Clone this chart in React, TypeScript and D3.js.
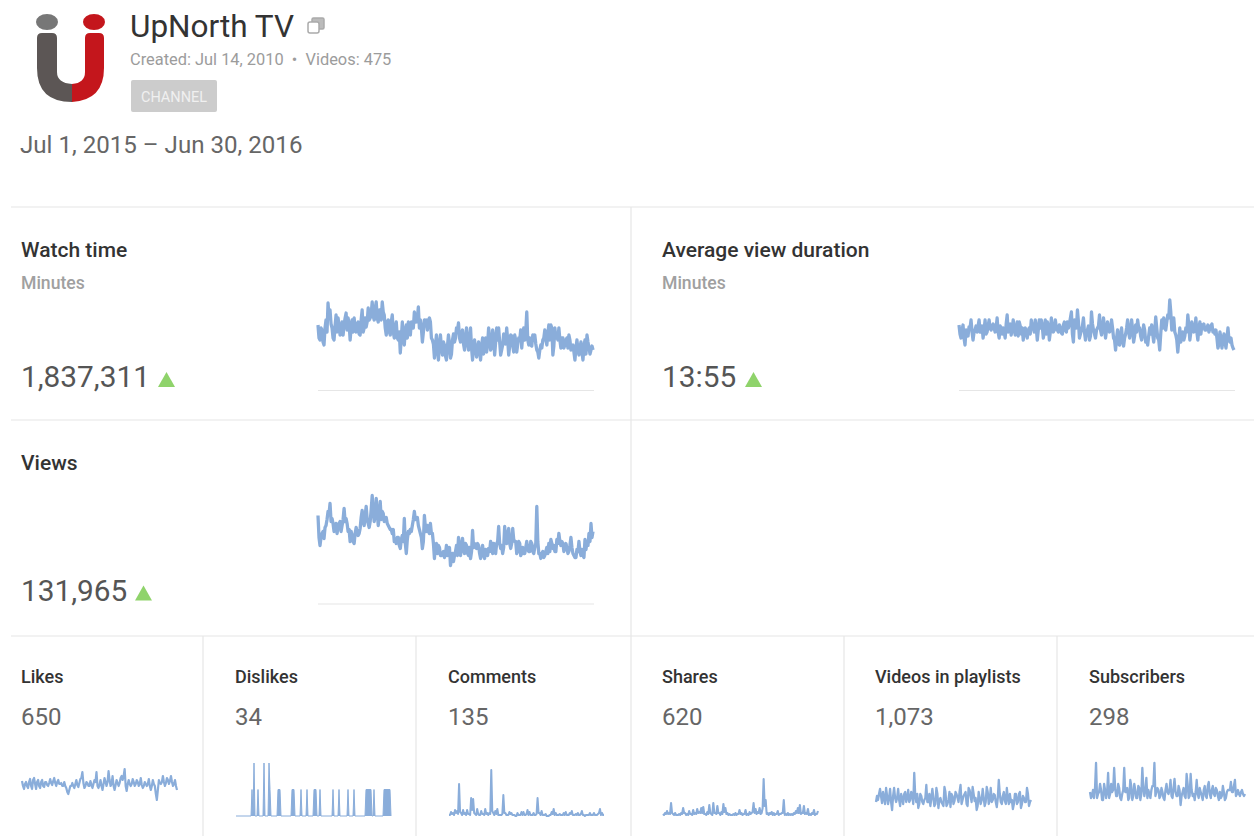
import React from "react";
import * as d3 from "d3";

const channelName = "UpNorth TV";
const channelMeta = "Created: Jul 14, 2010  •  Videos: 475";
const dateRange = "Jul 1, 2015 – Jun 30, 2016";

const watchTimeA = [65,50,60,45,70,87,80,62,50,75,72,55,68,65,77,72,50,70,72,58,68,55,80,62,63,82,72,88,70,88,68,80,88,75,55,70,55,75,52,68,50,37,68,45,65,68,55,62,78,68,83,70,48,70,70,70,68,50,32,55,30,55,35,45,30,55,32,50,48,62,67,48,60,40,62,40,62,30,50,33,48,30,52,50,38,62,40,60,35,62,62,35,45,50,62,35,55,45,55,38,52,60,55,50,78,45,45,55,55,40,32,45,50,60,45,65,65,35,62,55,62,42,52,45,52,55,40,45,30,50,35,48,30,50,55,42,40,40];
const watchTimeB = [52,62,48,62,58,72,66,52,64,58,64,60,55,72,60,66,62,58,62,66,56,70,58,72,68,70,76,74,82,72,80,70,78,62,68,58,68,58,62,52,58,52,55,60,52,60,68,62,72,72,62,62,58,66,60,72,52,46,44,40,46,42,48,34,44,46,36,56,52,60,52,56,46,52,48,50,42,44,40,42,38,44,36,52,46,52,42,52,48,50,48,40,56,46,50,44,54,38,50,46,50,42,62,58,50,52,44,52,46,38,40,42,52,50,56,50,62,44,52,50,50,52,42,50,42,50,44,38,42,40,42,38,44,36,48,36,44];
const avgDurationA = [65,52,65,45,58,63,70,50,60,58,70,62,52,70,58,70,60,66,58,72,52,62,62,52,75,65,55,70,55,68,68,56,50,62,52,62,70,62,70,50,70,70,52,70,68,50,72,58,70,60,65,57,65,60,68,66,78,48,66,80,52,60,72,50,60,50,78,60,52,62,75,55,72,52,68,58,70,52,40,60,45,62,44,56,70,52,70,48,65,70,62,50,65,48,45,62,65,48,73,52,40,70,72,60,75,90,60,72,55,38,62,55,50,62,75,50,68,58,72,50,68,65,66,60,65,62,66,60,60,42,58,42,56,42,62,48,45,40];
const avgDurationB = [56,60,52,60,54,62,58,58,64,64,58,64,60,56,64,62,64,62,62,58,64,56,58,66,58,66,60,62,60,54,64,62,60,56,60,56,64,58,62,60,62,64,58,56,64,58,62,60,62,58,62,56,68,58,62,72,56,70,62,68,56,64,58,58,64,54,66,56,60,64,60,62,62,60,62,60,62,50,52,46,56,48,52,62,58,60,60,54,58,62,54,56,60,52,54,56,56,58,62,50,56,62,62,68,72,78,62,58,50,50,48,58,54,58,64,58,62,60,58,62,56,62,60,62,58,64,58,56,52,46,52,50,48,52,50,52,42];
const viewsA = [88,58,70,65,78,92,100,85,72,80,76,82,78,95,85,72,62,68,60,76,68,75,93,78,97,80,82,108,82,105,78,102,92,82,86,78,74,70,62,60,66,55,68,85,50,72,74,78,92,85,78,70,55,88,72,72,80,70,45,60,58,48,50,46,58,52,38,50,48,58,66,48,65,50,58,48,45,73,60,55,58,45,58,45,50,55,62,50,56,60,77,55,50,77,60,75,55,75,62,50,62,48,56,50,62,52,62,52,56,97,50,45,52,48,56,60,64,55,52,64,70,58,60,55,56,52,66,50,46,54,62,48,48,64,62,70,80,72];
const viewsB = [66,66,72,76,84,90,82,80,74,70,80,72,84,82,80,74,72,62,70,72,70,86,82,88,84,76,94,92,88,92,86,84,90,84,80,76,74,74,64,66,58,64,62,60,64,70,72,84,84,86,74,66,62,76,78,70,70,60,58,50,56,48,52,50,48,56,44,42,52,48,58,56,54,60,50,56,52,56,58,60,50,52,48,54,48,52,58,60,50,62,60,58,56,62,70,60,60,64,62,52,60,50,50,56,54,52,60,50,60,62,50,50,46,52,50,52,60,58,52,60,62,62,52,60,50,58,56,48,46,52,52,54,46,54,58,62,66];

const likesA = [35,27,34,28,37,27,38,27,36,28,36,29,34,30,37,31,38,30,36,32,30,34,28,22,30,33,28,36,29,37,44,28,34,30,35,28,36,44,28,36,26,38,30,45,30,40,26,36,30,38,36,47,25,36,30,37,30,36,30,38,28,34,30,37,26,36,30,16,36,32,40,30,38,32,40,30,36,26];
const likesB = [30,32,30,34,30,36,32,34,30,34,30,34,31,33,33,35,33,34,32,33,30,30,24,26,30,30,32,31,33,38,33,30,33,30,31,32,34,30,31,30,32,34,34,36,32,30,31,33,33,40,40,30,32,32,32,34,32,34,32,31,30,32,32,30,30,32,22,26,33,34,34,33,36,35,34,32,30];
const dislikeDays = [16,18,22,28,33,34,42,43,44,56,57,58,65,71,78,79,80,84,97,103,112,118,130,131,132,133,134,135,138,148,149,150,151,152,153,154];
const dislikeCounts = [1,2,1,2,2,1,1,1,1,1,1,1,1,1,1,1,1,1,1,1,1,1,1,1,1,1,1,1,1,1,1,1,1,1,1,1];
const dislikeSpan = 155;
const commentsA = [1,4,3,6,5,32,3,6,3,6,2,18,17,2,7,1,5,2,7,3,3,46,3,5,7,1,1,21,3,1,4,3,1,0,3,1,4,4,1,6,4,1,3,1,18,3,5,1,2,0,1,4,7,3,1,2,1,3,4,1,3,5,1,2,3,1,5,1,1,1,3,1,3,1,2,7,3,1];
const commentsB = [1,2,1,3,2,4,1,2,1,2,1,6,3,1,2,1,2,1,2,1,2,5,1,2,1,1,2,3,1,1,2,1,1,0,1,1,1,1,2,1,1,1,1,2,3,1,1,1,0,0,1,2,1,1,1,1,1,1,1,1,2,1,1,1,1,2,1,0,1,1,1,1,1,1,3,1,1];
const sharesA = [2,3,5,3,13,2,3,1,2,3,8,3,2,5,2,6,3,7,4,8,9,2,4,11,2,13,3,10,3,4,12,8,3,2,1,2,3,2,6,3,2,6,2,4,3,13,7,4,8,3,37,16,3,3,4,3,2,5,2,3,16,2,3,2,2,3,5,8,11,3,10,3,7,2,3,6,2,5];
const sharesB = [1,2,2,2,3,1,1,1,1,2,3,1,1,2,1,2,2,3,3,3,2,1,2,3,1,3,2,3,1,2,4,2,1,1,1,1,1,2,2,1,2,1,1,2,4,3,2,3,2,8,10,2,1,2,1,1,2,1,2,3,1,1,1,1,1,2,3,3,2,3,2,2,1,1,2,1,2];
const playlistsA = [14,16,27,13,18,28,12,27,6,28,14,27,10,18,22,14,26,16,22,43,14,8,22,14,16,31,14,10,27,10,28,8,18,12,29,10,16,9,20,15,22,14,31,16,22,12,28,20,29,15,6,24,12,27,10,29,12,28,16,21,9,36,14,20,15,28,12,14,7,22,12,22,8,20,14,28,10,16];
const playlistsB = [20,22,20,24,12,20,18,14,20,18,18,16,22,12,24,18,14,24,12,20,22,12,20,12,18,14,22,18,18,12,22,16,14,10,24,12,24,22,12,24,18,24,12,20,24,10,26,14,22,18,10,18,16,18,14,24,16,14,22,14,18,22,12,24,12,18,22,16,12,22,14,24,12,18,14,22,14];
const subscribersA = [24,20,18,53,22,32,16,32,18,43,22,24,48,20,32,18,22,48,24,16,36,16,32,18,30,16,48,20,38,26,18,30,53,24,26,20,24,16,32,22,36,18,37,20,30,11,24,20,42,18,42,20,16,36,18,24,16,30,18,34,18,30,20,26,16,18,30,16,24,26,34,24,36,22,22,24,22,22];
const subscribersB = [18,26,28,18,24,26,16,26,24,18,32,26,28,20,28,16,26,24,28,18,30,20,26,18,28,22,28,26,18,22,26,30,20,28,18,28,18,26,24,26,20,28,24,20,26,20,28,18,32,20,26,22,24,22,28,20,26,20,30,22,26,22,28,20,24,20,24,18,26,26,24,30,20,26,20,26,20];

// The two hand-read lists alternate day by day along the line.
const weave = (a: number[], b: number[]) => a.flatMap((v, i) => (i < a.length - 1 && i < b.length ? [v, b[i]] : [v]));

const dislikes = d3.range(dislikeSpan + 1).map((i) => {
  const k = dislikeDays.indexOf(i);
  return k >= 0 ? dislikeCounts[k] * 26.5 : 0;
});

const bigTitles = ["Watch time", "Average view duration", "Views"];
const bigSubs = ["Minutes", "Minutes", ""];
const bigValues = ["1,837,311", "13:55", "131,965"];
const bigSeries = [weave(watchTimeA, watchTimeB), weave(avgDurationA, avgDurationB), weave(viewsA, viewsB)];
const bigLeft = [21, 662, 21];
const bigTop = [0, 0, 213.5];
const sparkLeft = [318, 959, 318];
const triLeft = [158, 745, 135];

const smallTitles = ["Likes", "Dislikes", "Comments", "Shares", "Videos in playlists", "Subscribers"];
const smallValues = ["650", "34", "135", "620", "1,073", "298"];
const smallSeries = [weave(likesA, likesB), dislikes, weave(commentsA, commentsB), weave(sharesA, sharesB), weave(playlistsA, playlistsB), weave(subscribersA, subscribersB)];
const smallFilled = [false, true, false, false, false, false];
const smallStroke = [2.2, 1, 2, 2.1, 2.3, 2.3];
const smallLeft = [21, 235, 448, 662, 875, 1089];
const dividers = [203, 416, 631, 844, 1057];

const FONT = "Roboto, sans-serif";
const LINE = "#8aadda";
const RULE = "#e6e6e6";

function Spark({ data, left, width, base, maxPx, sw, filled }: { data: number[]; left: number; width: number; base: number; maxPx: number; sw: number; filled?: boolean }) {
  const x = d3.scaleLinear().domain([0, data.length - 1]).range([left, left + width]);
  const y = d3.scaleLinear().domain([0, maxPx]).range([base, base - maxPx]);
  const line = d3.line<number>().x((_, i) => x(i)).y((d) => y(d));
  const area = d3.area<number>().x((_, i) => x(i)).y0(base).y1((d) => y(d));
  return (
    <g filter="url(#soft)">
      {filled && <path d={area(data) || ""} fill={LINE} />}
      <path d={line(data) || ""} fill="none" stroke={LINE} strokeWidth={sw} strokeLinejoin="round" />
    </g>
  );
}

export default function App() {
  return (
    <svg width={1254} height={836} viewBox="0 0 1254 836" style={{ position: "absolute", left: 0, top: 0, background: "#fff" }} fontFamily={FONT}>
      <defs>
        <filter id="soft" x="-5%" y="-20%" width="110%" height="140%">
          <feGaussianBlur stdDeviation="0.35" />
        </filter>
      </defs>

      {/* logo */}
      <g filter="url(#soft)">
        <ellipse cx={47} cy={22} rx={11} ry={8} fill="#777" />
        <ellipse cx={94} cy={22} rx={11} ry={8} fill="#c4161c" />
        <path d="M37,38 Q37,33 42,33 H52 Q57,33 57,38 V72 Q57,83 72,84 V102 Q37,102 37,68 Z" fill="#5c5754" />
        <path d="M72,102 V84 Q85,83 85,72 V38 Q85,33 90,33 H99 Q104,33 104,38 V68 Q104,100 72,102 Z" fill="#c4161c" />
      </g>

      <text x={130} y={37} fontSize={31.5} fill="#333">{channelName}</text>
      <g fill="none" stroke="#aaa" strokeWidth={1.5}>
        <rect x={312} y={18} width={12} height={11} rx={1.5} fill="#bbb" stroke="#aaa" />
        <rect x={308} y={22} width={11} height={11} rx={2} fill="#fff" />
      </g>
      <text x={130} y={65} fontSize={16.4} fill="#9c9c9c" xmlSpace="preserve">{channelMeta}</text>
      <rect x={131} y={80} width={86} height={32} rx={2} fill="#cccccc" />
      <text x={174} y={102} fontSize={14.5} fill="#f0f0f0" textAnchor="middle">CHANNEL</text>
      <text x={20} y={153} fontSize={24.1} fill="#666">{dateRange}</text>

      {/* grid rules */}
      {[207, 420, 636].map((y) => (
        <line key={y} x1={11} x2={1254} y1={y} y2={y} stroke={RULE} strokeWidth={1.2} />
      ))}
      <line x1={631} x2={631} y1={207} y2={636} stroke={RULE} strokeWidth={1.2} />
      {dividers.map((x) => (
        <line key={x} x1={x} x2={x} y1={636} y2={836} stroke={RULE} strokeWidth={1.2} />
      ))}

      {/* large cards */}
      {bigTitles.map((t, i) => (
        <g key={t}>
          <text x={bigLeft[i]} y={257 + (i === 2 ? 213 : 0)} fontSize={21} fontWeight={500} fill="#333">{t}</text>
          {bigSubs[i] && <text x={bigLeft[i]} y={289 + bigTop[i]} fontSize={17.6} fontWeight={500} fill="#a0a0a0">{bigSubs[i]}</text>}
          <text x={bigLeft[i]} y={387 + bigTop[i]} fontSize={29.8} fill="#555">{bigValues[i]}</text>
          <path d={d3.line()([[triLeft[i], 387 + bigTop[i]], [triLeft[i] + 17, 387 + bigTop[i]], [triLeft[i] + 8.5, 372 + bigTop[i]]]) + "Z"} fill="#8fd36b" />
          <line x1={sparkLeft[i]} x2={sparkLeft[i] + 276} y1={390.5 + bigTop[i]} y2={390.5 + bigTop[i]} stroke={RULE} strokeWidth={1.2} />
          <Spark data={bigSeries[i]} left={sparkLeft[i]} width={275} base={390 + bigTop[i]} maxPx={110} sw={3.3} />
        </g>
      ))}

      {/* small cards */}
      {smallTitles.map((t, i) => (
        <g key={t}>
          <text x={smallLeft[i]} y={683} fontSize={18} fontWeight={500} fill="#333">{t}</text>
          <text x={smallLeft[i]} y={725} fontSize={24} fill="#666">{smallValues[i]}</text>
          <Spark data={smallSeries[i]} left={smallLeft[i] + 1} width={155} base={816} maxPx={60} sw={smallStroke[i]} filled={smallFilled[i]} />
        </g>
      ))}
    </svg>
  );
}
